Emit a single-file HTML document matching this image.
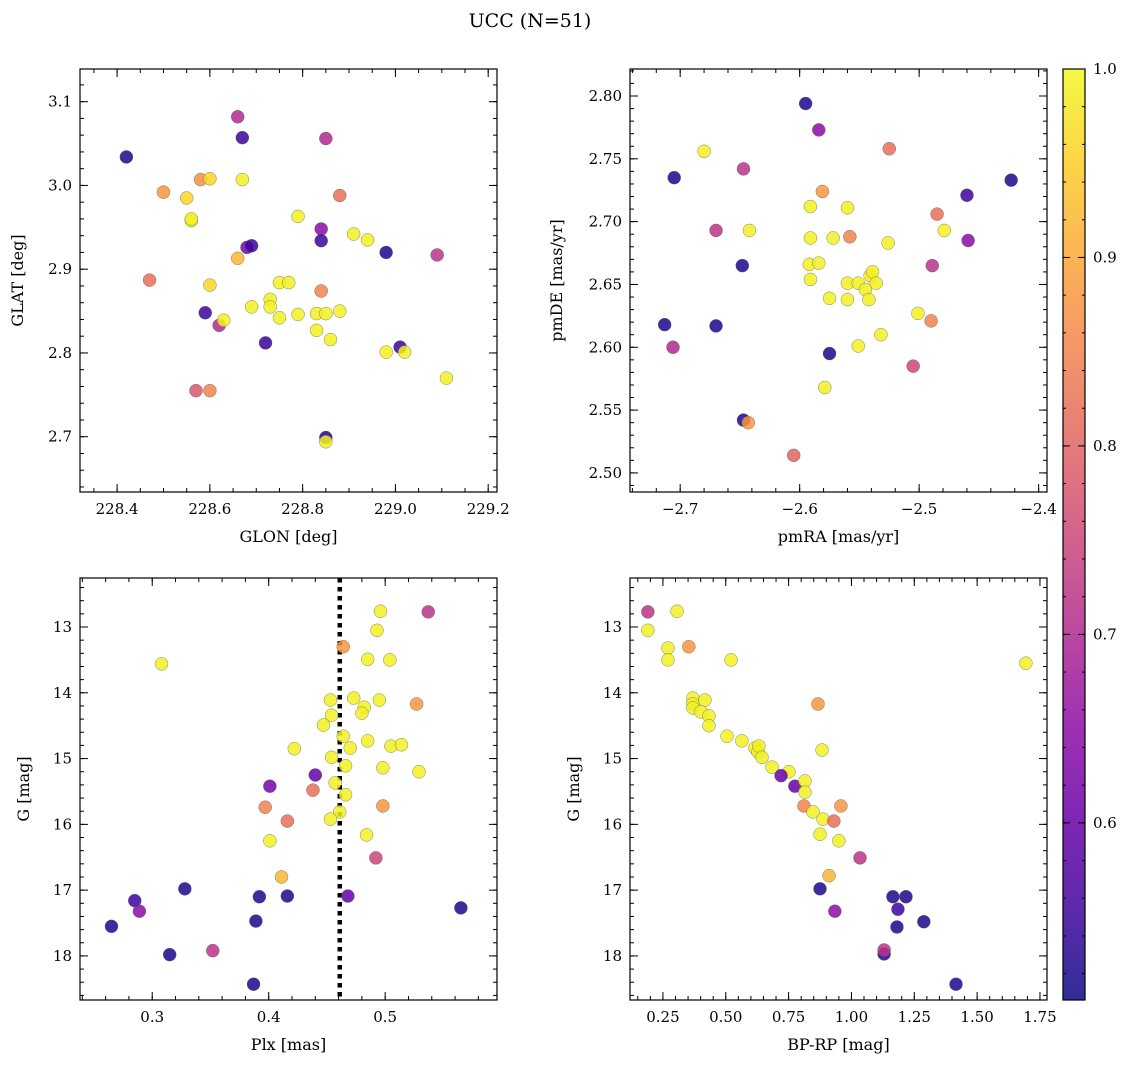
<!DOCTYPE html>
<html><head><meta charset="utf-8">
<style>
html,body{margin:0;padding:0;background:#fff;}
svg{display:block;font-family:"DejaVu Serif","Liberation Serif",serif;}
</style></head>
<body>
<svg id="fig" width="1136" height="1068" viewBox="0 0 1136 1068" xmlns="http://www.w3.org/2000/svg">
<text x="530" y="27" text-anchor="middle" font-size="19">UCC (N=51)</text>
</svg>
<script>
// ---- Panel 1: GLON vs GLAT ----
const glon1 = [228.42,228.66,228.67,228.85,228.50,228.55,228.58,228.60,228.67,228.56,228.56,228.88,228.79,228.84,228.84,228.91,228.94,228.98,229.09,228.68,228.69,228.66,228.60,228.47,228.75,228.77,228.73,228.73,228.69,228.75,228.84,228.79,228.83,228.85,228.88,228.83,228.86,228.59,228.62,228.63,228.72,229.01,228.98,229.02,229.11,228.57,228.60,228.85,228.85];
const glat1 = [3.034,3.082,3.057,3.056,2.992,2.985,3.007,3.008,3.007,2.958,2.960,2.988,2.963,2.948,2.934,2.942,2.935,2.920,2.917,2.926,2.928,2.913,2.881,2.887,2.884,2.884,2.864,2.855,2.855,2.842,2.874,2.846,2.847,2.847,2.850,2.827,2.816,2.848,2.833,2.839,2.812,2.807,2.801,2.801,2.770,2.755,2.755,2.699,2.694];
const prob1 = [0.52,0.70,0.55,0.70,0.88,0.96,0.87,0.96,0.99,0.99,0.99,0.82,0.99,0.65,0.55,0.99,0.99,0.52,0.72,0.62,0.55,0.92,0.96,0.82,0.99,0.99,0.99,0.99,0.99,0.99,0.85,0.99,0.99,0.99,0.99,0.99,0.99,0.55,0.70,0.99,0.55,0.55,0.99,0.99,0.99,0.78,0.85,0.52,0.99];
// ---- Panel 2: pmRA vs pmDE ----
const pmra2 = [-2.595,-2.584,-2.680,-2.525,-2.705,-2.647,-2.423,-2.581,-2.460,-2.591,-2.560,-2.485,-2.642,-2.479,-2.670,-2.459,-2.591,-2.572,-2.558,-2.526,-2.648,-2.592,-2.584,-2.591,-2.489,-2.560,-2.551,-2.541,-2.539,-2.536,-2.545,-2.542,-2.560,-2.575,-2.532,-2.551,-2.501,-2.490,-2.713,-2.670,-2.706,-2.575,-2.505,-2.579,-2.647,-2.643,-2.605];
const pmde2 = [2.794,2.773,2.756,2.758,2.735,2.742,2.733,2.724,2.721,2.712,2.711,2.706,2.693,2.693,2.693,2.685,2.687,2.687,2.688,2.683,2.665,2.666,2.667,2.654,2.665,2.651,2.651,2.657,2.660,2.651,2.646,2.638,2.638,2.639,2.610,2.601,2.627,2.621,2.618,2.617,2.600,2.595,2.585,2.568,2.542,2.540,2.514];
const prob2 = [0.52,0.65,0.99,0.82,0.52,0.72,0.52,0.88,0.55,0.99,0.99,0.82,0.99,0.99,0.72,0.65,0.99,0.99,0.85,0.99,0.52,0.99,0.99,0.99,0.72,0.99,0.99,0.99,0.99,0.99,0.99,0.99,0.99,0.99,0.99,0.99,0.99,0.85,0.52,0.52,0.70,0.52,0.75,0.99,0.52,0.88,0.80];
// ---- Panel 3: Plx vs G ----
const plx3 = [0.308,0.496,0.537,0.493,0.464,0.485,0.504,0.453,0.473,0.495,0.527,0.454,0.447,0.482,0.480,0.464,0.470,0.485,0.505,0.514,0.422,0.454,0.498,0.529,0.466,0.440,0.401,0.438,0.466,0.457,0.397,0.498,0.461,0.453,0.416,0.484,0.401,0.492,0.411,0.328,0.392,0.416,0.468,0.285,0.289,0.565,0.389,0.265,0.315,0.352,0.387];
const g3 = [13.56,12.76,12.77,13.05,13.30,13.49,13.50,14.11,14.08,14.11,14.17,14.34,14.49,14.22,14.31,14.66,14.84,14.73,14.81,14.79,14.85,14.98,15.14,15.20,15.11,15.25,15.42,15.48,15.55,15.37,15.74,15.72,15.81,15.92,15.95,16.16,16.25,16.51,16.80,16.98,17.10,17.09,17.09,17.16,17.32,17.27,17.47,17.55,17.98,17.92,18.43];
const prob3 = [0.99,0.99,0.72,0.99,0.88,0.99,0.99,0.99,0.99,0.99,0.88,0.99,0.99,0.99,0.99,0.99,0.99,0.99,0.99,0.99,0.99,0.99,0.99,0.99,0.99,0.60,0.62,0.82,0.99,0.99,0.85,0.88,0.99,0.99,0.82,0.99,0.99,0.75,0.92,0.52,0.52,0.52,0.60,0.55,0.65,0.52,0.52,0.52,0.52,0.72,0.52];
const plxLine = 0.461;
// ---- Panel 4: BP-RP vs G ----
const bprp4 = [0.190,0.190,0.306,0.270,0.270,0.353,0.521,1.694,0.369,0.369,0.369,0.417,0.401,0.433,0.433,0.505,0.564,0.616,0.628,0.632,0.644,0.684,0.751,0.720,0.775,0.815,0.815,0.811,0.867,0.883,0.847,0.887,0.930,0.958,0.950,0.875,1.034,0.911,0.875,1.165,1.217,1.185,0.934,1.288,1.181,1.130,1.130,1.416];
const g4 = [12.77,13.05,12.76,13.32,13.50,13.30,13.50,13.55,14.08,14.17,14.23,14.11,14.29,14.35,14.50,14.66,14.73,14.84,14.90,14.81,14.98,15.13,15.20,15.26,15.42,15.34,15.51,15.72,14.17,14.87,15.81,15.92,15.95,15.72,16.25,16.15,16.51,16.78,16.98,17.10,17.10,17.29,17.32,17.48,17.56,17.97,17.91,18.43];
const prob4 = [0.72,0.99,0.99,0.99,0.99,0.88,0.99,0.99,0.99,0.99,0.99,0.99,0.99,0.99,0.99,0.99,0.99,0.99,0.99,0.99,0.99,0.99,0.99,0.60,0.60,0.99,0.99,0.85,0.88,0.99,0.99,0.99,0.82,0.88,0.99,0.99,0.72,0.92,0.52,0.52,0.52,0.55,0.65,0.52,0.52,0.52,0.72,0.52];
// ---- Colorbar ticks ----
const cbTicks = [0.6,0.7,0.8,0.9,1.0];
const cbMin = 0.506, cbMax = 1.0;

const NS = "http://www.w3.org/2000/svg";
const svg = document.getElementById('fig');
function mk(tag, attrs, parent){const e=document.createElementNS(NS,tag);for(const k in attrs)e.setAttribute(k,attrs[k]);(parent||svg).appendChild(e);return e;}

const stops=[[0,[13,8,135]],[0.1,[65,4,157]],[0.2,[106,0,168]],[0.3,[143,13,164]],[0.4,[177,42,144]],[0.5,[204,71,120]],[0.6,[225,100,98]],[0.7,[242,132,75]],[0.8,[252,166,54]],[0.9,[252,206,37]],[1,[240,249,33]]];
function plasma(t){t=Math.max(0,Math.min(1,t));for(let i=1;i<stops.length;i++){if(t<=stops[i][0]){const a=stops[i-1],b=stops[i];const f=(t-a[0])/(b[0]-a[0]);const c=a[1].map((v,j)=>Math.round(v+(b[1][j]-v)*f));return `rgb(${c[0]},${c[1]},${c[2]})`;}}return 'rgb(240,249,33)';}
function cmap(v){return plasma((v-cbMin)/(cbMax-cbMin));}
function fmt(v,d){const s=v.toFixed(d);return s.replace('-','\u2212');}

function panel(o){
  const {name,x0,x1,y0,y1,L,T,R,B,xs,ys,cs,xMaj,xMin,yMaj,yMin,xd,yd,xl,yl,invert,ylx}=o;
  const g=mk('g',{});
  
  
  const sx=v=>L+(v-x0)/(x1-x0)*(R-L);
  const sy=invert? (v=>T+(v-y0)/(y1-y0)*(B-T)) : (v=>B-(v-y0)/(y1-y0)*(B-T));
  const tg=mk('g',{stroke:'#000','stroke-width':1},g);
  function ticks(step,len,isX,labels,dec){
    const lo=isX?Math.min(x0,x1):Math.min(y0,y1), hi=isX?Math.max(x0,x1):Math.max(y0,y1);
    for(let k=Math.ceil(lo/step-1e-6);k*step<=hi+1e-9;k++){
      const v=k*step;
      if(isX){const p=sx(v);mk('line',{x1:p,x2:p,y1:B,y2:B-len},tg);mk('line',{x1:p,x2:p,y1:T,y2:T+len},tg);
        if(labels){const t=mk('text',{x:p,y:B+22,'text-anchor':'middle','font-size':15,stroke:'none'},g);t.textContent=fmt(v,dec);}}
      else{const p=sy(v);mk('line',{x1:L,x2:L+len,y1:p,y2:p},tg);mk('line',{x1:R,x2:R-len,y1:p,y2:p},tg);
        if(labels){const t=mk('text',{x:L-8,y:p+5,'text-anchor':'end','font-size':15,stroke:'none'},g);t.textContent=fmt(v,dec);}}
    }
  }
  ticks(xMin,4,true,false);ticks(yMin,4,false,false);
  ticks(xMaj,8,true,true,xd);ticks(yMaj,8,false,true,yd);
  if(o.vline!==undefined){const p=sx(o.vline);const l=mk('line',{x1:p,x2:p,y1:T,y2:B,stroke:'#000','stroke-width':4.5,'stroke-dasharray':'4.5,4.5'},g);}
  for(let i=0;i<xs.length;i++){
    const c=mk('circle',{cx:sx(xs[i]),cy:sy(ys[i]),r:6.5,fill:cmap(cs[i]),'fill-opacity':0.85,stroke:'#555','stroke-width':0.5,'stroke-opacity':0.7},g);
    
    
  }
  const fr=mk('rect',{x:L,y:T,width:R-L,height:B-T,fill:'none',stroke:'#000','stroke-width':1.2},g);
  
  const xt=mk('text',{x:(L+R)/2,y:B+50,'text-anchor':'middle','font-size':16},g);xt.textContent=xl;
  
  const yx=ylx, yy=(T+B)/2;
  const yt=mk('text',{x:yx,y:yy,'text-anchor':'middle','font-size':16,transform:`rotate(-90 ${yx} ${yy})`},g);yt.textContent=yl;
  
}

panel({name:'glon-glat-panel',x0:228.320,x1:229.219,y0:2.634,y1:3.139,L:80,T:69,R:497,B:492,xs:glon1,ys:glat1,cs:prob1,xMaj:0.2,xMin:0.05,yMaj:0.1,yMin:0.02,xd:1,yd:1,xl:'GLON [deg]',yl:'GLAT [deg]',ylx:23});
panel({name:'proper-motion-panel',x0:-2.742,x1:-2.393,y0:2.4848,y1:2.8215,L:630,T:69,R:1047,B:492,xs:pmra2,ys:pmde2,cs:prob2,xMaj:0.1,xMin:0.02,yMaj:0.05,yMin:0.01,xd:1,yd:2,xl:'pmRA [mas/yr]',yl:'pmDE [mas/yr]',ylx:562});
panel({name:'plx-g-panel',x0:0.238,x1:0.596,y0:12.255,y1:18.67,L:80,T:578,R:497,B:1000,xs:plx3,ys:g3,cs:prob3,xMaj:0.1,xMin:0.02,yMaj:1,yMin:0.2,xd:1,yd:0,xl:'Plx [mas]',yl:'G [mag]',invert:true,vline:plxLine,ylx:29});
panel({name:'cmd-panel',x0:0.119,x1:1.778,y0:12.255,y1:18.67,L:630,T:578,R:1047,B:1000,xs:bprp4,ys:g4,cs:prob4,xMaj:0.25,xMin:0.05,yMaj:1,yMin:0.2,xd:2,yd:0,xl:'BP-RP [mag]',yl:'G [mag]',invert:true,ylx:579});

const cb=mk('g',{});


const defs=mk('defs',{},cb);
const lg=mk('linearGradient',{id:'cbg',x1:0,y1:1,x2:0,y2:0},defs);
for(let i=0;i<=20;i++){mk('stop',{offset:i/20,'stop-color':plasma(i/20),'stop-opacity':0.85},lg);}
const CL=1063,CR=1085,CT=69,CB=1000;
mk('rect',{x:CL,y:CT,width:CR-CL,height:CB-CT,fill:'url(#cbg)'},cb);
mk('rect',{x:CL,y:CT,width:CR-CL,height:CB-CT,fill:'none',stroke:'#000','stroke-width':1.2},cb);
const cy=v=>CB-(v-cbMin)/(cbMax-cbMin)*(CB-CT);
for(let v=0.52;v<=1.0001;v+=0.02){const p=cy(v);mk('line',{x1:CR,x2:CR-3,y1:p,y2:p,stroke:'#000'},cb);mk('line',{x1:CL,x2:CL+3,y1:p,y2:p,stroke:'#000'},cb);}
for(let i=0;i<cbTicks.length;i++){const p=cy(cbTicks[i]);mk('line',{x1:CR,x2:CR-7,y1:p,y2:p,stroke:'#000'},cb);mk('line',{x1:CL,x2:CL+7,y1:p,y2:p,stroke:'#000'},cb);
  const t=mk('text',{x:CR+8,y:p+5,'font-size':15},cb);t.textContent=cbTicks[i].toFixed(1);
  
  }
</script>
</body></html>
